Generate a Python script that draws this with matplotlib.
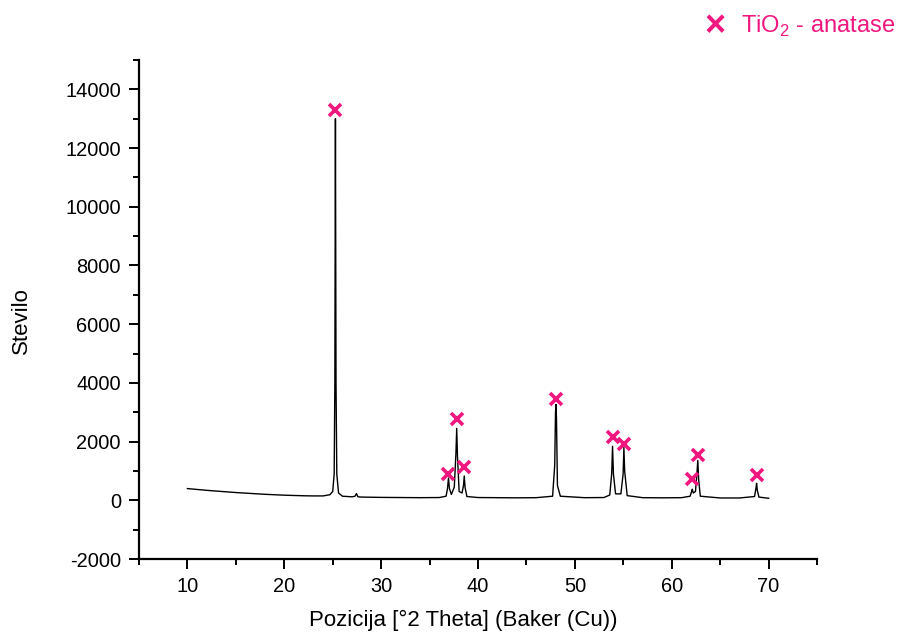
import matplotlib
matplotlib.use("Agg")
import matplotlib.pyplot as plt
from matplotlib.ticker import MultipleLocator

plt.rcParams["font.family"] = ["Liberation Sans", "DejaVu Sans"]
plt.rcParams["mathtext.fontset"] = "custom"
plt.rcParams["mathtext.rm"] = "Liberation Sans"
plt.rcParams["axes.unicode_minus"] = False

# ------------------------------------------
# data
# ------------------------------------------
two_theta = [10.0, 11, 12, 13, 14, 15, 16, 17, 18, 19, 20, 21, 22, 23, 24,
             24.7, 25.0, 25.15, 25.22, 25.28, 25.34, 25.42, 25.6, 26.0,
             27.0, 27.3, 27.45, 27.6, 28, 30, 32, 34, 36,
             36.7, 36.85, 36.95, 37.05, 37.25, 37.55, 37.72, 37.8, 37.88, 38.05,
             38.35, 38.5, 38.58, 38.66, 38.85, 40, 42, 44, 46,
             47.7, 47.92, 48.0, 48.05, 48.1, 48.2, 48.5, 51, 53,
             53.6, 53.8, 53.89, 53.98, 54.2, 54.75, 54.98, 55.06, 55.14, 55.4,
             57, 59, 61, 61.9, 62.05, 62.12, 62.22, 62.45, 62.6, 62.69, 62.78,
             62.95, 65, 67, 68.55, 68.7, 68.76, 68.83, 69.0, 70.0]
counts = [400, 370, 340, 315, 290, 265, 245, 225, 205, 190, 175, 165, 155, 150, 150,
          190, 300, 900, 4000, 13000, 4000, 900, 250, 140,
          120, 140, 230, 120, 110, 100, 95, 90, 95,
          140, 400, 760, 400, 200, 450, 1600, 2450, 1500, 300,
          250, 500, 830, 450, 130, 95, 90, 85, 90,
          140, 1200, 3000, 3270, 2800, 500, 140, 90, 95,
          180, 900, 1840, 900, 220, 220, 900, 1800, 1000, 160,
          90, 85, 90, 140, 300, 380, 250, 300, 900, 1360, 700,
          140, 80, 80, 130, 420, 580, 350, 110, 70]

# anatase reflections (markers)
anatase_pos = [25.28, 36.95, 37.80, 38.58, 48.05, 53.89, 55.06, 62.12, 62.69, 68.76]
anatase_mark = [13300, 890, 2760, 1120, 3440, 2150, 1910, 720, 1530, 850]

PINK = "#f0177f"

fig = plt.figure(figsize=(9.02, 6.37), dpi=100)
ax = fig.add_axes([0.1541, 0.1224, 0.7517, 0.7834])

ax.plot(two_theta, counts, color="black", lw=1.0)
ax.plot(anatase_pos, anatase_mark, linestyle="none", marker="x",
        color=PINK, markersize=9, markeredgewidth=2.6)

ax.set_xlim(5, 75)
ax.set_ylim(-2000, 15000)
ax.xaxis.set_major_locator(MultipleLocator(10))
ax.xaxis.set_minor_locator(MultipleLocator(5))
ax.yaxis.set_major_locator(MultipleLocator(2000))
ax.yaxis.set_minor_locator(MultipleLocator(1000))

for side in ["top", "right"]:
    ax.spines[side].set_visible(False)
for side in ["left", "bottom"]:
    ax.spines[side].set_linewidth(1.6)

ax.tick_params(which="major", direction="out", length=7, width=1.4,
               labelsize=14.4, pad=6)
ax.tick_params(which="minor", direction="out", length=4, width=1.4)

ax.set_xlabel("Pozicija [°2 Theta] (Baker (Cu))", fontsize=16)
ax.set_ylabel("Stevilo", fontsize=16)
ax.xaxis.set_label_coords(0.478, -0.102)
ax.yaxis.set_label_coords(-0.158, 0.478)

# legend-like label top right
fig.text(0.781, 0.958, "×", color=PINK, fontsize=26, fontweight="bold",
         ha="left", va="center")
fig.text(0.822, 0.958, r"TiO$_\mathrm{2}$ - anatase", color=PINK,
         fontsize=17, ha="left", va="center")

fig.savefig("out.png", dpi=100)
